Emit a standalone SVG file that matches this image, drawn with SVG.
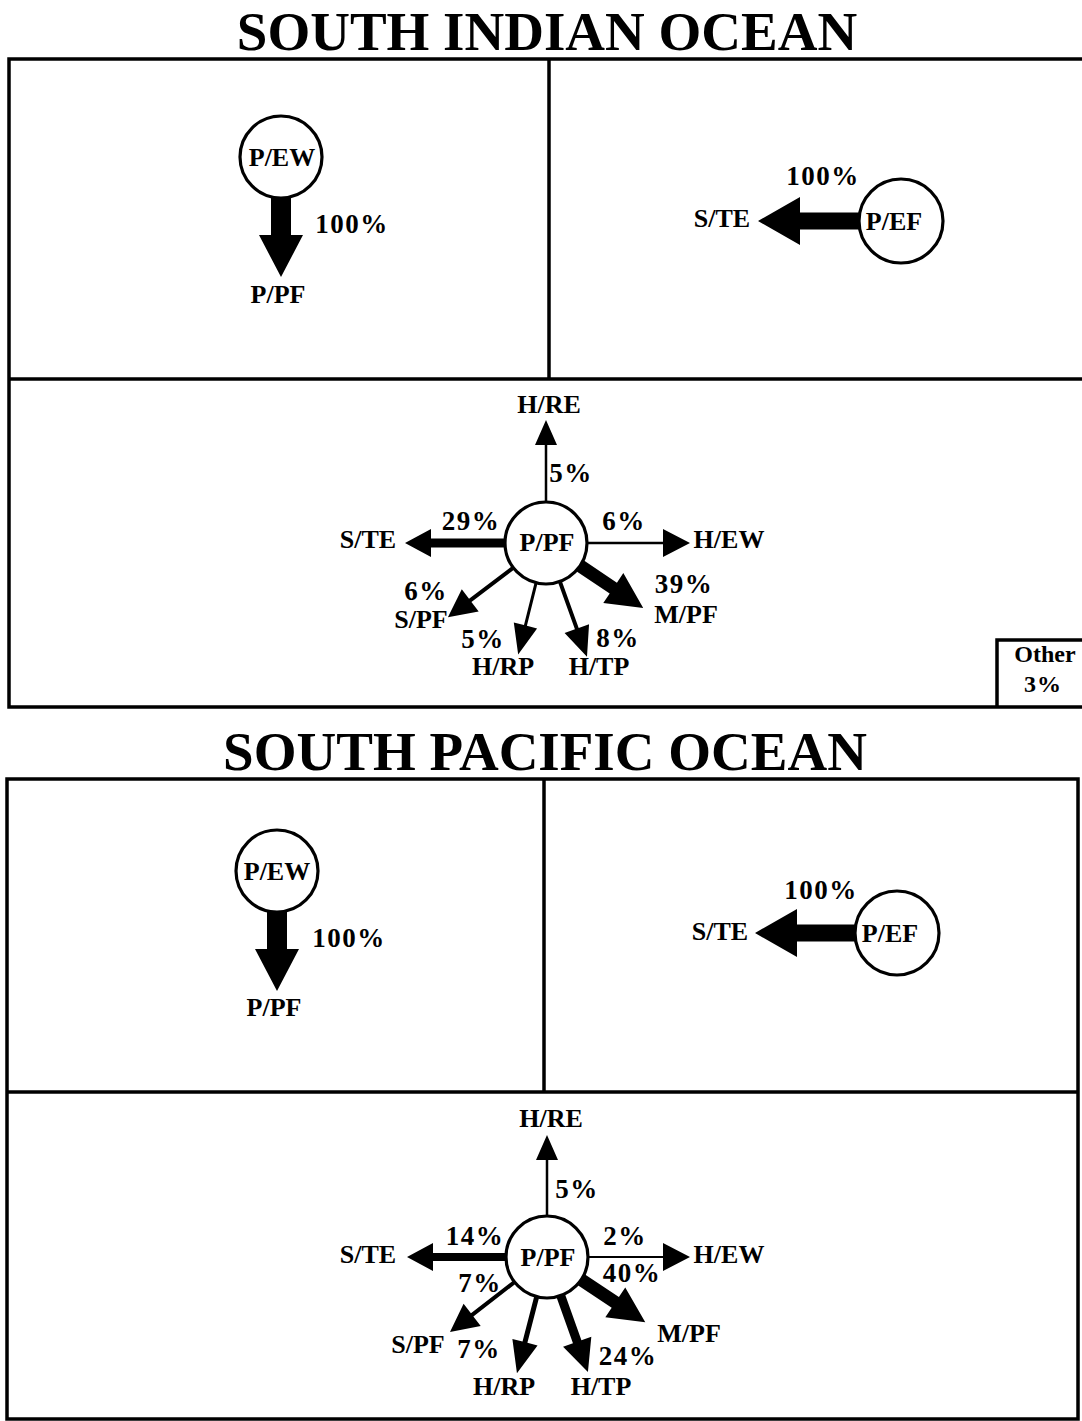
<svg xmlns="http://www.w3.org/2000/svg" width="1082" height="1421" viewBox="0 0 1082 1421">
<style>
text{font-family:"Liberation Serif","Times New Roman",serif;font-weight:bold;fill:#000;text-anchor:middle}
.t{font-size:55px}
.n{font-size:26px}
.p{font-size:27px;letter-spacing:1.5px}
.o{font-size:24px}
.frame{fill:none;stroke:#000;stroke-width:3.5}
.node{fill:#fff;stroke:#000;stroke-width:3.2}
.arr{fill:#000;stroke:none}
</style>
<rect width="1082" height="1421" fill="#fff"/>

<!-- SOUTH INDIAN OCEAN -->
<text class="t" x="547" y="50">SOUTH INDIAN OCEAN</text>
<g id="indian-frame" class="frame">
<path d="M1084,59 H9 V707 H1084"/>
<path d="M9,379 H1084"/>
<path d="M549,59 V379"/>
<path d="M997,707 V640 H1084"/>
</g>
<g id="indian-other"><text class="o" x="1045" y="662">Other</text><text class="o" x="1043" y="692" letter-spacing="1">3%</text></g>

<g id="connectors">
<!-- Indian top -->
<polygon class="arr" transform="translate(281,157) rotate(90)" points="40,-10 78,-10 78,-22 120,0 78,22 78,10 40,10"/>
<polygon class="arr" transform="translate(901,221) rotate(180)" points="41,-8.5 101,-8.5 101,-24 143,0 101,24 101,8.5 41,8.5"/>
<!-- Indian star -->
<polygon class="arr" transform="translate(546,543) rotate(-90)" points="40,-1.25 98,-1.25 98,-11 123,0 98,11 98,1.25 40,1.25"/>
<polygon class="arr" transform="translate(546,543) rotate(180)" points="40,-4.5 115,-4.5 115,-14 141,0 115,14 115,4.5 40,4.5"/>
<polygon class="arr" transform="translate(546,543) rotate(0)" points="40,-1.25 117,-1.25 117,-14 144,0 117,14 117,1.25 40,1.25"/>
<polygon class="arr" transform="translate(546,543) rotate(33.8)" points="40,-6.5 81,-6.5 81,-18 117,0 81,18 81,6.5 40,6.5"/>
<polygon class="arr" transform="translate(546,543) rotate(142.9)" points="40,-2 95,-2 95,-14 123,0 95,14 95,2 40,2"/>
<polygon class="arr" transform="translate(546,543) rotate(104)" points="40,-1.5 85,-1.5 85,-12 115,0 85,12 85,1.5 40,1.5"/>
<polygon class="arr" transform="translate(546,543) rotate(70.2)" points="40,-2 91,-2 91,-13 121,0 91,13 91,2 40,2"/>
<!-- Pacific top -->
<polygon class="arr" transform="translate(277,871) rotate(90)" points="40,-10 78,-10 78,-22 120,0 78,22 78,10 40,10"/>
<polygon class="arr" transform="translate(897,933) rotate(180)" points="41,-8.5 100,-8.5 100,-24 142,0 100,24 100,8.5 41,8.5"/>
<!-- Pacific star -->
<polygon class="arr" transform="translate(547,1257) rotate(-90)" points="40,-1.25 97,-1.25 97,-11 122,0 97,11 97,1.25 40,1.25"/>
<polygon class="arr" transform="translate(547,1257) rotate(180)" points="40,-4 114,-4 114,-14 140,0 114,14 114,4 40,4"/>
<polygon class="arr" transform="translate(547,1257) rotate(0)" points="40,-1 116,-1 116,-14 143,0 116,14 116,1 40,1"/>
<polygon class="arr" transform="translate(547,1257) rotate(33.6)" points="40,-6.5 82,-6.5 82,-18 118,0 82,18 82,6.5 40,6.5"/>
<polygon class="arr" transform="translate(547,1257) rotate(142.3)" points="40,-2 94.6,-2 94.6,-14 122.6,0 94.6,14 94.6,2 40,2"/>
<polygon class="arr" transform="translate(547,1257) rotate(104.5)" points="40,-2.5 88,-2.5 88,-13 120,0 88,13 88,2.5 40,2.5"/>
<polygon class="arr" transform="translate(547,1257) rotate(70.4)" points="40,-4.5 90,-4.5 90,-15 122,0 90,15 90,4.5 40,4.5"/>
</g>

<!-- Indian nodes -->
<g id="i-pew"><circle class="node" cx="281" cy="157" r="41"/><text class="n" x="282" y="166">P/EW</text></g>
<g id="i-ppf-top"><text class="n" x="278" y="303">P/PF</text></g>
<text class="p" x="352" y="233">100%</text>
<g id="i-pef"><circle class="node" cx="901" cy="221" r="42"/><text class="n" x="894" y="230">P/EF</text></g>
<g id="i-ste-top"><text class="n" x="722" y="227">S/TE</text></g>
<text class="p" x="823" y="185">100%</text>

<g id="i-ppf"><circle class="node" cx="546" cy="543" r="41"/><text class="n" x="547" y="551">P/PF</text></g>
<g id="i-hre"><text class="n" x="549" y="413">H/RE</text></g>
<g id="i-ste"><text class="n" x="368" y="548">S/TE</text></g>
<g id="i-hew"><text class="n" x="729" y="548">H/EW</text></g>
<g id="i-mpf"><text class="n" x="686" y="623">M/PF</text></g>
<g id="i-spf"><text class="n" x="421" y="628">S/PF</text></g>
<g id="i-hrp"><text class="n" x="503" y="675">H/RP</text></g>
<g id="i-htp"><text class="n" x="599" y="675">H/TP</text></g>
<g id="i-pct">
<text class="p" x="571" y="482">5%</text>
<text class="p" x="471" y="530">29%</text>
<text class="p" x="624" y="530">6%</text>
<text class="p" x="426" y="600">6%</text>
<text class="p" x="684" y="593">39%</text>
<text class="p" x="483" y="648">5%</text>
<text class="p" x="618" y="647">8%</text>
</g>

<!-- SOUTH PACIFIC OCEAN -->
<text class="t" x="545" y="770">SOUTH PACIFIC OCEAN</text>
<g id="pacific-frame" class="frame">
<rect x="7" y="779" width="1071" height="640"/>
<path d="M7,1092 H1078"/>
<path d="M544,779 V1092"/>
</g>

<g id="p-pew"><circle class="node" cx="277" cy="871" r="41"/><text class="n" x="277" y="880">P/EW</text></g>
<g id="p-ppf-top"><text class="n" x="274" y="1016">P/PF</text></g>
<text class="p" x="349" y="947">100%</text>
<g id="p-pef"><circle class="node" cx="897" cy="933" r="42"/><text class="n" x="890" y="942">P/EF</text></g>
<g id="p-ste-top"><text class="n" x="720" y="940">S/TE</text></g>
<text class="p" x="821" y="899">100%</text>

<g id="p-ppf"><circle class="node" cx="547" cy="1257" r="41"/><text class="n" x="548" y="1266">P/PF</text></g>
<g id="p-hre"><text class="n" x="551" y="1127">H/RE</text></g>
<g id="p-ste"><text class="n" x="368" y="1263">S/TE</text></g>
<g id="p-hew"><text class="n" x="729" y="1263">H/EW</text></g>
<g id="p-mpf"><text class="n" x="689" y="1342">M/PF</text></g>
<g id="p-spf"><text class="n" x="418" y="1353">S/PF</text></g>
<g id="p-hrp"><text class="n" x="504" y="1395">H/RP</text></g>
<g id="p-htp"><text class="n" x="601" y="1395">H/TP</text></g>
<g id="p-pct">
<text class="p" x="577" y="1198">5%</text>
<text class="p" x="475" y="1245">14%</text>
<text class="p" x="625" y="1245">2%</text>
<text class="p" x="632" y="1282">40%</text>
<text class="p" x="480" y="1292">7%</text>
<text class="p" x="479" y="1358">7%</text>
<text class="p" x="628" y="1365">24%</text>
</g>
</svg>
